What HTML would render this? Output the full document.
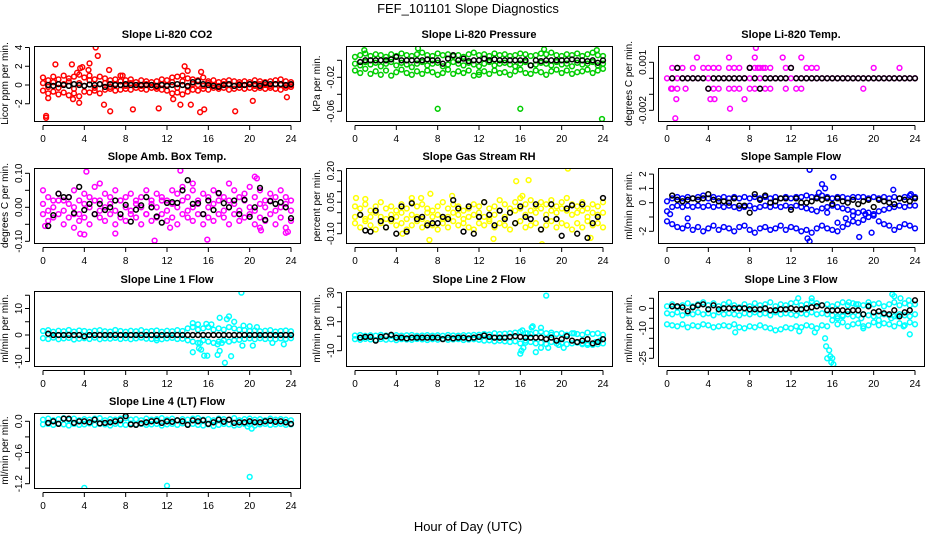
<!DOCTYPE html>
<html><head><meta charset="utf-8"><style>
html,body{margin:0;padding:0;background:#fff;}
svg{display:block;font-family:"Liberation Sans",sans-serif;}
</style></head><body>
<svg id="chart" width="936" height="540" viewBox="0 0 936 540" xmlns="http://www.w3.org/2000/svg">
<text x="468" y="13" text-anchor="middle" font-size="13">FEF_101101  Slope Diagnostics</text>
<text x="468" y="531" text-anchor="middle" font-size="13">Hour of Day (UTC)</text>
</svg>
<script>
const hours=[0,0.5,1,1.5,2,2.5,3,3.5,4,4.5,5,5.5,6,6.5,7,7.5,8,8.5,9,9.5,10,10.5,11,11.5,12,12.5,13,13.5,14,14.5,15,15.5,16,16.5,17,17.5,18,18.5,19,19.5,20,20.5,21,21.5,22,22.5,23,23.5,24];
const xTicks=[0,4,8,12,16,20,24];
const N=null;
// CO2
const co2A=[0.8,0.5,0.9,0.6,1.0,0.7,0.9,1.1,0.8,1.0,0.6,0.9,0.7,0.5,0.6,0.4,0.5,0.6,0.3,0.5,0.4,0.3,0.4,0.6,0.5,0.8,0.9,1.0,0.7,0.6,0.5,0.8,0.4,0.5,0.3,0.4,0.5,0.4,0.3,0.4,0.3,0.5,0.4,0.3,0.4,0.5,0.6,0.4,0.3];
const co2B=[-0.6,-0.9,-0.7,-1.0,-0.8,-1.1,-0.9,-1.2,-0.7,-0.8,-0.6,-0.9,-0.5,-0.4,-0.6,-0.5,-0.4,-0.5,-0.3,-0.4,-0.5,-0.3,-0.4,-0.5,-0.6,-0.9,-0.8,-1.0,-0.7,-0.5,-0.6,-0.4,-0.5,-0.3,-0.4,-0.3,-0.5,-0.4,-0.3,-0.4,-0.3,-0.4,-0.3,-0.4,-0.3,-0.4,-0.5,-0.3,-0.2];
const co2C=[0.2,-0.2,0.3,-0.3,0.1,0.4,-0.4,0.2,-0.1,0.5,-0.3,0.1,0.2,-0.2,0.1,0,-0.1,0.2,0,-0.1,0.1,0,-0.2,0.1,0,0.3,-0.3,0.4,-0.2,0.1,0,-0.1,0.2,0,-0.1,0.1,0,-0.1,0.1,0,0.1,-0.1,0.1,0,-0.1,0.1,0,-0.1,0];
const co2OutX=[1.2,2.8,3.3,3.6,4.5,5.1,5.3,6.4,0.3,0.3,0.5,2.9,3.5,5.9,6.5,8.7,11.2,12.6,13.3,13.7,14.0,14.3,15.2,15.6,15.3,18.6,20.3,23.6,7.5,7.7,3.8,4.4];
const co2OutY=[2.2,2.2,1.3,1.8,2.3,4.0,3.1,1.6,-3.3,-3.5,-1.4,-1.5,-1.9,-2.1,-2.8,-2.6,-2.5,-1.5,-2.1,2.0,1.5,-2.1,-2.9,-2.6,1.4,-2.8,-1.7,-1.3,1.0,1.0,1.9,1.6];
const co2K=[N,0,-0.1,0.1,0,-0.1,0.1,0,-0.1,0.05,0,0.1,-0.2,0.1,0,0,0.1,0,0,0,0,0,-0.1,0,-0.1,0,0.1,0,-0.1,0.3,0.4,0.1,0,-0.1,-0.2,0,0.1,-0.1,0,0,0.1,0.1,-0.1,0.2,0.1,0.1,0.1,0,0.1];
// Pressure
const prA=[0.004,0.006,0.008,0.005,0.007,0.006,0.004,0.007,0.005,0.008,0.006,0.005,0.007,0.009,0.006,0.005,0.008,0.006,0.007,0.005,0.006,0.004,0.007,0.009,0.006,0.007,0.005,0.008,0.006,0.007,0.005,0.006,0.008,0.007,0.005,0.006,0.008,0.007,0.009,0.006,0.005,0.007,0.006,0.008,0.005,0.007,0.009,0.006,0.005];
const prB=[-0.012,-0.015,-0.010,-0.016,-0.013,-0.017,-0.012,-0.018,-0.014,-0.011,-0.015,-0.017,-0.013,-0.016,-0.012,-0.014,-0.017,-0.015,-0.011,-0.016,-0.013,-0.015,-0.012,-0.018,-0.014,-0.013,-0.016,-0.012,-0.015,-0.014,-0.017,-0.013,-0.011,-0.015,-0.016,-0.012,-0.014,-0.017,-0.013,-0.011,-0.015,-0.012,-0.016,-0.014,-0.013,-0.011,-0.015,-0.012,-0.010];
const prC=[-0.004,-0.006,-0.002,-0.005,-0.003,-0.007,-0.004,-0.002,-0.006,-0.003,-0.005,-0.008,-0.004,-0.002,-0.006,-0.004,-0.003,-0.007,-0.005,-0.002,-0.004,-0.006,-0.003,-0.005,-0.007,-0.004,-0.002,-0.006,-0.004,-0.003,-0.005,-0.007,-0.004,-0.002,-0.006,-0.005,-0.003,-0.004,-0.006,-0.002,-0.005,-0.004,-0.007,-0.003,-0.005,-0.004,-0.002,-0.006,-0.004];
const prOutX=[8.0,16.0,23.9,6.1,0.9,18.3,23.4,12.0];
const prOutY=[-0.057,-0.057,-0.069,0.014,0.012,0.013,0.012,-0.017];
const prK=[N,-0.002,0,0,0,0,0,0.001,0.004,0,0,0,0,0,0.001,0,0,-0.004,0.002,0.006,0,0.002,-0.001,0,0,0.002,0,0.001,0,0,0,0,0,0,-0.006,0,-0.001,0,0,0,0,0,0.001,0,0,-0.001,0,-0.003,0];
// Li-820 temp
const tmA=[0,0,0,0,0,0,0,0,0,0,0,0,0,0,0,0,0,0,0,0,0,0,0,0,0,0,0,0,0,0,0,0,0,0,0,0,0,0,0,0,0,0,0,0,0,0,0,0,0];
const tmP=[N,0.00065,0.00065,0.00065,N,0.00065,N,0.00065,0.00065,0.00065,0.00065,N,0.00065,0.00065,0.00065,N,0.00065,0.00065,0.00065,0.00065,0.00065,N,N,0.00065,0.00065,N,N,0.00065,0.00065,0.00065,N,N,N,N,N,N,N,N,N,N,0.00065,N,N,N,N,0.00065,N,N,N];
const tmM=[N,-0.00065,-0.00065,N,N,N,N,N,-0.00065,-0.00065,-0.00065,N,-0.00065,-0.00065,-0.00065,N,-0.00065,-0.00065,-0.00065,-0.00065,-0.00065,N,N,-0.00065,N,-0.00065,-0.00065,N,N,N,N,N,N,N,N,N,N,N,N,N,N,N,N,N,N,N,N,N,N];
const tmOutX=[0.9,0.8,2.9,6.0,8.6,8.5,11.2,13.0,4.2,4.6,6.1,7.5,1.8,19.0,0.4,8.0,8.8,9.3];
const tmOutY=[-0.0013,-0.0025,0.0013,0.0013,0.0019,0.0013,0.0013,0.0013,-0.0013,-0.0013,-0.0019,-0.0013,-0.00065,-0.00065,-0.00065,0.00065,0.00065,0.00065];
const tmK=[N,0,0.00065,0,0,0,0,0,-0.00065,0,0,0,0,0,0,0,0.00065,0,-0.00065,0,0,0,0,0,0.00065,0,0,0,0,0,0,0,0,0,0,0,0,0,0,0,0,0,0,0,0,0,0,0,0];
// Amb box temp
const amA=[0.05,0.03,0.02,0.04,0.02,0.03,0.05,0.02,0.04,0.03,0.06,0.02,0.04,0.03,0.05,0.02,0.03,0.04,0.02,0.03,0.05,0.02,0.04,0.03,0.02,0.05,0.04,0.06,0.03,0.05,0.02,0.04,0.03,0.05,0.04,0.03,0.02,0.05,0.03,0.04,0.06,0.03,0.05,0.02,0.04,0.03,0.05,0.03,0.02];
const amB=[-0.02,-0.04,-0.03,-0.02,-0.05,-0.03,-0.02,-0.04,-0.03,-0.05,-0.02,-0.03,-0.04,-0.02,-0.05,-0.03,-0.04,-0.02,-0.03,-0.05,-0.02,-0.04,-0.03,-0.02,-0.04,-0.03,-0.05,-0.02,-0.03,-0.04,-0.02,-0.05,-0.03,-0.04,-0.02,-0.03,-0.05,-0.02,-0.04,-0.03,-0.02,-0.05,-0.03,-0.04,-0.02,-0.05,-0.03,-0.06,-0.04];
const amC=[0.01,-0.01,0.0,0.02,-0.01,0.01,0.0,-0.02,0.01,0.0,0.02,-0.01,0.0,0.01,-0.01,0.02,0.0,-0.01,0.01,0.0,-0.02,0.01,0.0,0.02,-0.01,0.01,0.0,0.02,-0.01,0.0,0.01,-0.02,0.0,0.01,0.02,-0.01,0.0,0.01,-0.01,0.02,0.0,-0.01,0.01,0.0,0.02,-0.01,0.0,0.01,-0.01];
const amOutX=[4.2,13.3,20.5,20.7,10.8,15.9,3.6,4.0,7.0,0.2,23.5,23.7,21.0,21.1,12.3,5.5,14.5,18.0,3.0];
const amOutY=[0.105,0.108,0.09,0.085,-0.098,-0.095,-0.078,-0.08,-0.077,-0.055,-0.075,-0.072,-0.06,-0.068,-0.06,0.07,0.07,0.07,-0.06];
const amK=[N,-0.055,-0.023,0.04,0.03,0.03,-0.017,0.06,-0.008,0.01,-0.02,0.01,-0.008,0.0,0.02,-0.02,0.007,-0.042,-0.007,0.006,0.03,0.0,-0.027,-0.045,0.013,0.015,0.013,0.05,0.08,0.01,0.012,-0.02,0.02,-0.008,0.042,0.012,0.0,0.02,-0.02,0.022,-0.028,0.0,0.057,-0.037,0.018,0.01,0.015,0.0,-0.032];
// Gas stream RH
const rhA=[0.03,0.02,0.04,0.01,0.03,0.05,0.02,0.03,0.01,0.04,0.02,0.05,0.03,0.04,0.02,0.01,0.03,0.05,0.02,0.04,0.03,0.01,0.02,0.04,0.03,0.05,0.02,0.03,0.06,0.04,0.02,0.05,0.07,0.04,0.06,0.03,0.05,0.04,0.06,0.03,0.05,0.07,0.04,0.03,0.05,0.02,0.04,0.03,0.05];
const rhB=[-0.05,-0.07,-0.04,-0.06,-0.08,-0.05,-0.07,-0.04,-0.06,-0.05,-0.08,-0.06,-0.04,-0.07,-0.05,-0.06,-0.08,-0.05,-0.07,-0.04,-0.06,-0.05,-0.07,-0.08,-0.05,-0.06,-0.04,-0.07,-0.05,-0.06,-0.08,-0.05,-0.04,-0.07,-0.06,-0.05,-0.08,-0.06,-0.04,-0.07,-0.05,-0.06,-0.08,-0.05,-0.07,-0.04,-0.06,-0.05,-0.07];
const rhC=[-0.02,-0.01,-0.03,-0.02,0.0,-0.02,-0.03,-0.01,-0.02,0.0,-0.03,-0.01,-0.02,-0.03,0.0,-0.02,-0.01,-0.03,-0.02,0.0,-0.01,-0.03,-0.02,-0.01,0.0,-0.02,-0.03,-0.01,0.01,-0.02,0.0,0.01,0.02,-0.01,0.01,0.0,0.02,-0.01,0.01,0.0,0.02,0.01,-0.01,0.0,0.01,-0.02,0.0,-0.01,0.0];
const rhOutX=[0.1,1.0,15.6,16.8,20.6,7.3,18.0,18.1,7.2,13.4,6.4,9.4,5.5,16.2,22.8,4.6];
const rhOutY=[0.07,0.065,0.15,0.155,0.21,0.09,-0.165,-0.15,-0.13,-0.125,0.07,0.08,0.07,0.08,-0.12,-0.1];
const rhK=[N,-0.01,-0.085,-0.09,0.01,-0.04,-0.07,-0.03,-0.10,0.03,-0.09,0.045,-0.03,-0.02,-0.06,-0.05,-0.05,-0.02,-0.03,0.06,0.02,-0.09,0.03,-0.1,-0.02,0.05,-0.01,-0.06,0.01,-0.03,0.0,-0.05,0.03,-0.02,-0.03,0.04,-0.08,-0.03,0.04,-0.03,-0.11,0.02,0.035,-0.1,0.04,-0.12,-0.05,-0.02,0.07];
// Sample flow
const sfA=[0.1,0.3,0.4,0.3,0.4,0.3,0.4,0.5,0.3,0.4,0.3,0.4,0.3,0.4,0.3,0.4,0.3,0.4,0.3,0.4,0.3,0.4,0.3,0.4,0.3,0.4,0.4,0.5,0.4,0.4,0.5,0.4,0.3,0.4,0.4,0.3,0.4,0.4,0.4,0.3,0.4,0.3,0.4,0.3,0.4,0.3,0.4,0.5,0.4];
const sfB=[-0.6,-0.3,-0.2,-0.3,-0.2,-0.3,-0.2,-0.3,-0.2,-0.3,-0.2,-0.3,-0.2,-0.3,-0.4,-0.3,-0.2,-0.4,-0.3,-0.2,-0.3,-0.2,-0.3,-0.2,-0.3,-0.2,-0.3,-0.4,-0.5,-0.6,-0.4,-0.3,-0.2,-0.3,-0.4,-0.5,-0.6,-0.7,-0.6,-0.7,-0.8,-0.6,-0.5,-0.4,-0.3,-0.2,-0.3,-0.2,-0.2];
const sfC=[-1.3,-1.5,-1.7,-1.8,-1.6,-1.9,-1.7,-2.0,-1.8,-1.6,-1.9,-1.7,-1.8,-2.0,-1.7,-1.6,-1.9,-2.1,-1.8,-1.7,-1.9,-1.8,-1.6,-1.9,-1.7,-1.8,-2.0,-1.9,-2.1,-1.8,-1.6,-1.8,-1.9,-2.0,-1.7,-1.5,-1.3,-1.4,-1.2,-1.0,-0.9,-1.3,-1.5,-1.6,-1.9,-1.7,-1.5,-1.6,-1.8];
const sfOutX=[13.8,16.1,15.0,15.3,13.6,13.8,18.6,21.9,23.6,14.7,15.5,16.5,17.3,18.0,19.2,19.8,2.0,0.3];
const sfOutY=[2.3,1.8,1.3,1.0,-2.5,-2.7,-2.4,0.9,0.6,0.7,-0.7,-1.4,-1.1,-0.9,-0.8,-2.1,-1.1,-0.8];
const sfK=[N,0.5,0.2,0.1,0.2,0.3,0.2,0.3,0.6,0.2,0.1,0.1,0.0,0.3,-0.2,-0.2,-0.7,0.6,0.2,0.5,0.0,0.1,0.3,0.3,-0.5,0.3,0.0,0.0,0.1,0.3,0.2,0.3,-0.1,0.3,0.1,0.0,0.2,-0.1,0.1,0.2,-0.3,0.2,0.1,0.0,-0.1,0.3,0.2,0.1,0.3];
// Line 1 flow
const l1A=[1.5,1.8,1.2,1.6,1.4,1.9,1.3,1.7,1.5,1.2,1.6,1.8,1.4,1.3,1.9,1.5,1.2,1.6,1.4,1.8,1.3,1.5,1.7,1.2,1.6,1.4,1.8,1.5,2.5,3.0,2.0,2.5,3.0,2.0,2.5,2.0,3.0,2.5,2.0,1.8,1.5,1.7,1.4,1.6,1.8,1.3,1.5,1.7,1.4];
const l1B=[-1.2,-1.5,-1.0,-1.6,-1.3,-1.1,-1.7,-1.4,-1.2,-1.5,-1.0,-1.6,-1.3,-1.4,-1.1,-1.5,-1.2,-1.6,-1.3,-1.0,-1.4,-1.5,-1.2,-1.6,-1.3,-1.1,-1.5,-1.4,-2.0,-2.5,-3.0,-2.0,-2.5,-3.0,-2.5,-2.0,-2.5,-2.0,-1.8,-1.5,-1.3,-1.6,-1.2,-1.5,-1.4,-1.6,-1.3,-1.5,-1.2];
const l1OutX=[19.2,14.5,15.0,15.8,16.3,17.1,17.8,18.0,18.5,19.4,20.0,20.7,14.5,15.1,15.3,15.6,15.9,16.9,17.1,17.6,18.2,19.3,20.3,22.2,23.3,16.9,17.3,15.2,11.0];
const l1OutY=[16,4.5,4.0,4.2,4.0,6.5,6.0,7,5,3.5,3.3,3.0,-6.5,-5,-5.5,-7.8,-7.8,-7.5,-6,-10.5,-8,-4,-4,-3,-3.5,-3.5,-3,-3,-2];
const l1K=[N,0.5,0,0,0,0,0,0,-0.5,0,0,0,0,0,0,0,0,0,0,0,0,0,0,0,0,0,0,0,0,0,0,0,0,0,0,0,0,0,0,0,0,0,0,0,0,0,0,0,0];
// Line 2 flow
const l2A=[0.5,0.8,0.3,0.6,0.4,0.9,0.5,0.3,0.7,0.4,0.6,0.8,0.3,0.5,0.7,0.4,0.6,0.3,0.8,0.5,0.4,0.7,0.6,0.9,1.0,1.5,1.2,2.0,1.5,1.8,2.0,2.5,3.0,2.0,1.5,2.5,3.0,2.0,2.5,1.5,2.0,1.0,2.0,1.5,1.0,2.5,1.5,2.0,1.0];
const l2B=[-2.0,-2.5,-1.8,-2.2,-2.6,-1.9,-2.4,-2.1,-2.7,-2.0,-2.3,-2.5,-1.9,-2.2,-2.6,-2.1,-2.4,-1.8,-2.5,-2.2,-2.0,-2.6,-2.3,-2.1,-2.5,-3.0,-2.8,-3.5,-3.0,-3.5,-4.0,-3.5,-5.0,-4.5,-4.0,-5.0,-4.5,-5.5,-4.0,-5.0,-4.5,-5.5,-5.0,-4.5,-5.5,-5.0,-6.0,-5.5,-5.0];
const l2OutX=[18.5,16.2,16.7,17.1,16.5,16.3,16.0,16.1,17.5,18.0,18.7,19.0,19.7,20.2,21.2,22.0,22.5,23.3,23.7,18.0,17.2];
const l2OutY=[28,4,2,6,-3,-8,-12,-10,-11,-8,-8,1,-6,-8,2,-5,-6,-4,-3,5.8,6.8];
const l2K=[N,-1,-0.5,-0.5,-3,-0.5,0,1,-1,-1,-1.5,-1,-1,-1,-1,-1,-1,-2,-1,-1.5,-1,-1,-1.5,-1,-0.5,0.5,-0.5,-1,-1,-1,-0.5,0,-0.5,-1,-1,-1,-1,-2,-1,-3,-2,0,-3,-4,-3,-2,-5,-4,-2];
// Line 3 flow
const l3A=[1.0,2.0,0.5,1.5,2.5,1.0,2.0,3.0,1.5,2.5,1.0,2.0,3.0,1.5,0.5,2.0,1.0,2.5,1.5,2.0,3.0,1.0,2.0,1.5,2.5,3.0,1.5,2.0,3.5,2.5,1.5,2.0,1.0,2.0,3.0,1.5,2.5,2.0,1.5,3.0,2.0,2.5,1.0,2.0,3.0,1.5,2.5,1.5,2.0];
const l3B=[-2.5,-3.0,-2.0,-3.5,-2.5,-3.0,-2.0,-3.0,-2.5,-3.5,-2.0,-3.0,-2.5,-3.0,-3.5,-2.5,-3.0,-2.0,-3.0,-2.5,-3.5,-2.0,-3.0,-2.5,-3.0,-3.5,-2.5,-3.0,-2.0,-3.0,-2.5,-3.0,-3.5,-4.0,-3.5,-3.0,-4.0,-3.5,-3.0,-3.5,-4.0,-3.5,-3.0,-3.5,-4.0,-3.0,-3.5,-4.0,-3.0];
const l3C=[-8.0,-8.5,-9.0,-8.0,-9.5,-8.5,-9.0,-8.0,-8.5,-9.5,-9.0,-8.5,-9.0,-8.0,-9.5,-10.0,-9.0,-9.5,-8.5,-9.5,-10.0,-11.0,-10.5,-9.5,-10.0,-9.0,-9.5,-8.5,-9.0,-10.0,-8.5,-9.0,-6.0,-8.0,-7.0,-9.0,-8.0,-7.5,-9.0,-8.5,-7.0,-8.5,-7.5,-8.0,-9.0,-7.5,-8.5,-7.0,-8.0];
const l3OutX=[15.3,15.4,15.7,15.8,15.5,16.0,16.1,15.9,14.3,6.6,12.8,19.0,22.9,23.5,20.5,21.7,22.3,17.6,18.3,21.8,22.0,22.6,23.4,19.5,14.0,12.7,16.5,17.0,18.8];
const l3OutY=[-15,-19,-21,-24,-25,-25,-28,-27,-12,-12,-11.5,-10,-9,-13,-6,-5,-4,3,2,7,6,5,4,1.5,5,5,-5,-4,-5];
const l3K=[N,1,1,0.5,-1.5,0.5,1.5,2,-0.5,1.5,-0.5,0,0,0,0,0,-0.5,-0.5,-0.5,0,-1,-1,-0.5,-0.5,0,-0.5,-0.5,0,0.5,1,1.5,-1,-1,-1,-1,-1.5,-1,-1,-3,1,-2,-1.5,-2.5,-3,-1,-4,-2,-1,4];
// Line 4 (LT) flow
const l4A=[0.03,0.05,0.02,0.04,0.06,0.03,0.05,0.02,0.04,0.03,0.05,0.06,0.02,0.04,0.03,0.05,0.06,0.03,0.04,0.02,0.05,0.03,0.04,0.06,0.03,0.05,0.02,0.04,0.03,0.05,0.06,0.03,0.04,0.02,0.05,0.04,0.03,0.06,0.02,0.04,0.05,0.03,0.04,0.02,0.05,0.03,0.04,0.03,0.02];
const l4B=[-0.06,-0.05,-0.07,-0.04,-0.06,-0.08,-0.05,-0.07,-0.06,-0.04,-0.07,-0.05,-0.06,-0.08,-0.05,-0.06,-0.07,-0.04,-0.06,-0.05,-0.07,-0.06,-0.05,-0.08,-0.06,-0.05,-0.07,-0.04,-0.06,-0.05,-0.07,-0.08,-0.06,-0.09,-0.07,-0.05,-0.06,-0.08,-0.07,-0.05,-0.06,-0.08,-0.06,-0.05,-0.07,-0.06,-0.05,-0.07,-0.06];
const l4OutX=[4.0,12.0,20.0,20.2,19.8];
const l4OutY=[-1.28,-1.24,-1.07,-0.14,-0.1];
const l4K=[N,-0.03,0.0,-0.05,0.05,0.05,-0.03,0.0,0.0,-0.02,0.03,-0.04,-0.03,-0.02,0.0,0.02,0.1,-0.06,-0.07,-0.04,-0.02,0.0,0.01,-0.03,0.0,-0.01,0.02,0.0,-0.07,0.02,0.0,0.02,-0.05,-0.02,0.03,-0.01,0.03,-0.03,-0.02,-0.02,0.0,-0.02,-0.02,0.0,0.01,-0.01,0.0,-0.02,-0.05];

const NS="http://www.w3.org/2000/svg";
const svg=document.getElementById('chart');
function mk(tag,attrs,parent){const e=document.createElementNS(NS,tag);for(const k in attrs)e.setAttribute(k,attrs[k]);(parent||svg).appendChild(e);return e;}

const cols=[34,346,658], rows=[46,168,291,413], PW=266, PH=75;
const panels=[
 {name:'co2',title:'Slope Li-820 CO2',ylab:'Licor ppm per min.',c:0,r:0,y0:85,k:9.375,v0:0,ticks:[-2,0,2,4],labels:['-2','0','2','4'],color:'#ff0000',series:[co2A,co2B,co2C],ox:co2OutX,oy:co2OutY,kk:co2K},
 {name:'pressure',title:'Slope Li-820 Pressure',ylab:'kPa per min.',c:1,r:0,y0:60.3,k:850,v0:0,ticks:[0,-0.02,-0.04,-0.06],labels:['','-0.02','','-0.06'],color:'#00cd00',series:[prA,prB,prC],ox:prOutX,oy:prOutY,kk:prK},
 {name:'li820-temp',title:'Slope Li-820 Temp.',ylab:'degrees C per min.',c:2,r:0,y0:78.3,k:16000,v0:0,ticks:[0.001,0,-0.001,-0.002],labels:['0.001','','','-0.002'],color:'#ff00ff',series:[tmA,tmP,tmM],ox:tmOutX,oy:tmOutY,kk:tmK},
 {name:'amb-box-temp',title:'Slope Amb. Box Temp.',ylab:'degrees C per min.',c:0,r:1,y0:207.3,k:340,v0:0,ticks:[0.1,0.05,0,-0.05,-0.1],labels:['0.10','','0.00','','-0.10'],color:'#ff00ff',series:[amA,amB,amC],ox:amOutX,oy:amOutY,kk:amK},
 {name:'gas-stream-rh',title:'Slope Gas Stream RH',ylab:'percent per min.',c:1,r:1,y0:212.7,k:210,v0:0,ticks:[0.2,0.15,0.1,0.05,0,-0.05,-0.1],labels:['0.20','','','0.05','','','-0.10'],color:'#ffff00',series:[rhA,rhB,rhC],ox:rhOutX,oy:rhOutY,kk:rhK},
 {name:'sample-flow',title:'Slope Sample Flow',ylab:'ml/min per min.',c:2,r:1,y0:202.7,k:14.3,v0:0,ticks:[2,1,0,-1,-2],labels:['2','1','0','','-2'],color:'#0000ff',series:[sfA,sfB,sfC],ox:sfOutX,oy:sfOutY,kk:sfK},
 {name:'line1-flow',title:'Slope Line 1 Flow',ylab:'ml/min per min.',c:0,r:2,y0:335,k:2.65,v0:0,ticks:[15,10,5,0,-5,-10],labels:['','10','','0','','-10'],color:'#00ffff',series:[l1A,l1B],ox:l1OutX,oy:l1OutY,kk:l1K},
 {name:'line2-flow',title:'Slope Line 2 Flow',ylab:'ml/min per min.',c:1,r:2,y0:336.2,k:1.45,v0:0,ticks:[30,20,10,0,-10],labels:['30','','10','','-10'],color:'#00ffff',series:[l2A,l2B],ox:l2OutX,oy:l2OutY,kk:l2K},
 {name:'line3-flow',title:'Slope Line 3 Flow',ylab:'ml/min per min.',c:2,r:2,y0:308.3,k:2,v0:0,ticks:[5,0,-5,-10,-15,-20,-25],labels:['','0','','-10','','','-25'],color:'#00ffff',series:[l3A,l3B,l3C],ox:l3OutX,oy:l3OutY,kk:l3K},
 {name:'line4-flow',title:'Slope Line 4 (LT) Flow',ylab:'ml/min per min.',c:0,r:3,y0:421.3,k:52,v0:0,ticks:[0,-0.3,-0.6,-0.9,-1.2],labels:['0.0','','-0.6','','-1.2'],color:'#00ffff',series:[l4A,l4B],ox:l4OutX,oy:l4OutY,kk:l4K}
];

function pt(g,x,y,color){
  const c=mk('circle',{cx:x.toFixed(1),cy:y.toFixed(1),r:2.4,fill:'none',stroke:color,'stroke-width':1.5},g);
  
  
}

panels.forEach(p=>{
  const x0=cols[p.c], y0=rows[p.r];
  const g=mk('g',{});
  
  
  const xs=h=>x0+9+h*248/24;
  const ys=v=>p.y0-(v-p.v0)*p.k;
  const cg=mk('g',{'clip-path':'url(#clip-'+p.name+')'},g);
  const cp=mk('clipPath',{id:'clip-'+p.name},g);
  mk('rect',{x:x0,y:y0,width:PW,height:PH},cp);
  p.series.forEach(s=>s.forEach((v,i)=>{if(v!==null)pt(cg,xs(hours[i]),ys(v),p.color);}));
  p.ox.forEach((h,i)=>pt(cg,xs(h),ys(p.oy[i]),p.color));
  p.kk.forEach((v,i)=>{if(v!==null)pt(cg,xs(hours[i]),ys(v),'#000');});
  const box=mk('rect',{x:x0+0.5,y:y0+0.5,width:PW,height:PH,fill:'none',stroke:'#000','stroke-width':1},g);
  
  
  const t=mk('text',{x:x0+PW/2,y:y0-8,'text-anchor':'middle','font-size':11,'font-weight':'bold'},g);
  t.textContent=p.title;
  
  
  const yl=mk('text',{transform:'translate('+(x0-26)+','+(y0+PH/2)+') rotate(-90)','text-anchor':'middle','font-size':10},g);
  yl.textContent=p.ylab;
  
  
  mk('line',{x1:xs(0),x2:xs(24),y1:y0+PH+4.5,y2:y0+PH+4.5,stroke:'#000'},g);
  xTicks.forEach(h=>{
    mk('line',{x1:xs(h),x2:xs(h),y1:y0+PH+4.5,y2:y0+PH+9,stroke:'#000'},g);
    const tl=mk('text',{x:xs(h),y:y0+PH+21,'text-anchor':'middle','font-size':10},g);
    tl.textContent=String(h);
    
    
  });
  const yt=p.ticks.map(ys);
  mk('line',{x1:x0-4.5,x2:x0-4.5,y1:Math.min(...yt),y2:Math.max(...yt),stroke:'#000'},g);
  p.ticks.forEach((v,i)=>{
    const y=ys(v);
    mk('line',{x1:x0-9,x2:x0-4.5,y1:y,y2:y,stroke:'#000'},g);
    if(p.labels[i]){
      const tl=mk('text',{transform:'translate('+(x0-12)+','+y+') rotate(-90)','text-anchor':'middle','font-size':10},g);
      tl.textContent=p.labels[i];
      
      
    }
  });
});
</script>
</body></html>
